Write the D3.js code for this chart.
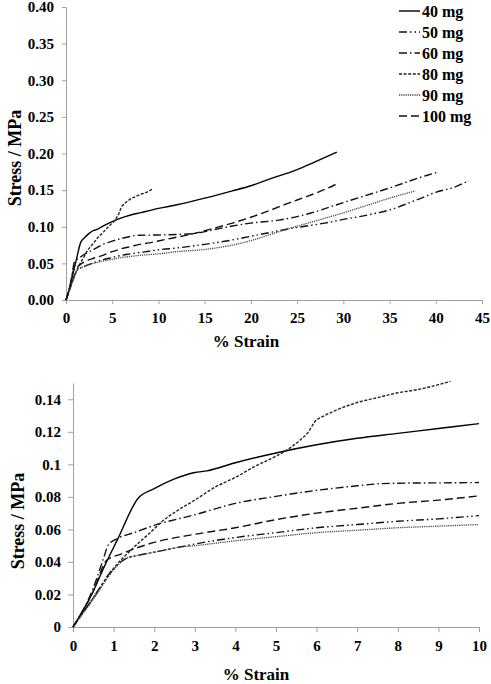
<!DOCTYPE html>
<html><head><meta charset="utf-8">
<script src="https://cdn.jsdelivr.net/npm/d3@7/dist/d3.min.js"></script>
<style>
body{margin:0;background:#fff;}
svg text{font-family:"Liberation Serif","Times New Roman",Times,"DejaVu Serif",serif !important;font-weight:bold;fill:#000;}
</style></head>
<body><svg id="c" width="491" height="684"></svg>
<script>
// ---- data ----
const seriesNames = ["40 mg","50 mg","60 mg","80 mg","90 mg","100 mg"];
const strain40 = [0,0.5,0.75,1.1,1.6,2.0,2.5,3.0,3.3,4,5,6,7,8,9,10,12,15,18,20,22,25,27,29.3];
const stress40 = [0,0.022,0.036,0.054,0.079,0.085,0.091,0.095,0.096,0.101,0.107,0.112,0.116,0.119,0.122,0.125,0.130,0.139,0.149,0.156,0.165,0.178,0.189,0.202];
const strain50 = [0,0.5,1.0,1.3,1.6,2,2.6,3,4,5,6,7,8,9,10,12,15,18,20,22,24,26,28,30,33,35,38,40,42,43.6];
const stress50 = [0,0.018,0.036,0.042,0.044,0.046,0.049,0.051,0.055,0.058,0.061,0.063,0.065,0.0665,0.0685,0.071,0.076,0.082,0.087,0.092,0.097,0.101,0.105,0.110,0.117,0.123,0.137,0.147,0.154,0.163];
const strain60 = [0,0.5,0.75,0.87,1.1,1.5,2,3,4,5,6,7,7.5,8,9,10,12,14,16,18,20,23,26,30,35,39,40.1];
const stress60 = [0,0.024,0.042,0.0505,0.0545,0.058,0.0625,0.069,0.076,0.0803,0.084,0.0868,0.088,0.0884,0.0886,0.0888,0.0895,0.091,0.096,0.101,0.105,0.109,0.117,0.133,0.153,0.170,0.174];
const strain80 = [0,0.5,1.0,1.5,1.9,2.2,2.6,3,3.5,4,4.5,5,5.34,5.6,5.8,5.95,6.2,6.5,7,7.5,8,8.5,9,9.3];
const stress80 = [0,0.018,0.036,0.049,0.058,0.065,0.072,0.078,0.086,0.092,0.099,0.105,0.110,0.115,0.120,0.126,0.130,0.1335,0.138,0.141,0.144,0.146,0.149,0.151];
const strain90 = [0,0.5,1.0,1.3,1.6,2,2.6,3,4,5,6,7,8,9,10,12,15,18,20,22,24,27,30,33,35,37.8];
const stress90 = [0,0.017,0.035,0.042,0.044,0.046,0.049,0.050,0.053,0.0555,0.058,0.0595,0.061,0.062,0.063,0.066,0.069,0.075,0.081,0.089,0.097,0.108,0.119,0.131,0.139,0.149];
const strain100 = [0,0.5,0.83,1.2,1.5,2,3,4,5,6,7,8,9,10,11.3,13.8,16,18,20,22,24,26,28,29.3];
const stress100 = [0,0.022,0.041,0.045,0.048,0.052,0.057,0.061,0.066,0.070,0.073,0.076,0.078,0.0806,0.084,0.0906,0.098,0.105,0.113,0.122,0.132,0.141,0.151,0.1585];

const topXTicks = [0,5,10,15,20,25,30,35,40,45];
const topYTicks = [0,0.05,0.10,0.15,0.20,0.25,0.30,0.35,0.40];
const topYLabels = ["0.00","0.05","0.10","0.15","0.20","0.25","0.30","0.35","0.40"];
const botXTicks = [0,1,2,3,4,5,6,7,8,9,10];
const botYTicks = [0,0.02,0.04,0.06,0.08,0.10,0.12,0.14];
const botYLabels = ["0","0.02","0.04","0.06","0.08","0.1","0.12","0.14"];

// ---- styles ----
const FONT = '"Liberation Serif","Times New Roman",Times,"DejaVu Serif",serif';
const styles = [
  {dash:null, color:"#000", w:1.4},
  {dash:"8,3,1.5,3,1.5,3", color:"#111", w:1.4},
  {dash:"8,3,1.5,3", color:"#111", w:1.4},
  {dash:"3,1.6", color:"#222", w:1.4},
  {dash:"1.2,1", color:"#444", w:1.3},
  {dash:"8,4", color:"#111", w:1.4}
];
const strains = [strain40,strain50,strain60,strain80,strain90,strain100];
const stresses = [stress40,stress50,stress60,stress80,stress90,stress100];
const series = seriesNames.map((n,i)=>({name:n, pts:strains[i].map((x,j)=>[x,stresses[i][j]]), st:styles[i]}));

const svg = d3.select("#c");
const axisColor = "#a0a0a0";

function drawChart(cfg){
  const x = d3.scaleLinear().domain(cfg.xd).range(cfg.xr);
  const y = d3.scaleLinear().domain(cfg.yd).range(cfg.yr);
  const g = svg.append("g");
  const xa = g.append("g").attr("transform",`translate(0,${cfg.yr[0]})`)
    .call(d3.axisBottom(x).tickValues(cfg.xt).tickFormat(d3.format("d")).tickSize(cfg.ts).tickSizeOuter(0).tickPadding(cfg.xpad));
  const ya = g.append("g").attr("transform",`translate(${cfg.xr[0]},0)`)
    .call(d3.axisLeft(y).tickValues(cfg.yt).tickFormat((d,i)=>cfg.yl[i]).tickSize(cfg.ts).tickSizeOuter(0).tickPadding(cfg.ypad));
  [xa,ya].forEach(a=>{
    a.attr("font-family",FONT).attr("font-size",cfg.fs);
    a.select(".domain").attr("stroke",axisColor);
    a.selectAll(".tick line").attr("stroke",axisColor);
    a.selectAll(".tick text").attr("font-family",FONT).attr("font-weight","bold").attr("font-size",cfg.fs).attr("fill","#000");
  });
  const line = d3.line().x(d=>x(d[0])).y(d=>y(d[1])).curve(d3.curveMonotoneX);
  series.forEach(s=>{
    const pts = s.pts.filter(p=>p[0]<=cfg.xd[1]+1e-9);
    g.append("path").attr("d",line(pts)).attr("fill","none")
      .attr("stroke",s.st.color).attr("stroke-width",s.st.w)
      .attr("stroke-dasharray",s.st.dash);
  });
  g.append("text").attr("x",cfg.xtx).attr("y",cfg.xty).attr("text-anchor","middle")
    .attr("font-family",FONT).attr("font-weight","bold").attr("font-size",17).text("% Strain");
  g.append("text").attr("transform",`translate(${cfg.ytx},${cfg.yty}) rotate(-90)`).attr("text-anchor","middle")
    .attr("font-family",FONT).attr("font-weight","bold").attr("font-size",18).text("Stress / MPa");
}

drawChart({xd:[0,45], xr:[66,482], yd:[0,0.40], yr:[300,7], xt:topXTicks, yt:topYTicks, yl:topYLabels,
  ts:4, xpad:8, ypad:8, fs:15, xtx:246, xty:347, ytx:21, yty:158});
drawChart({xd:[0,10], xr:[73,479], yd:[0,0.15], yr:[627,383], xt:botXTicks, yt:botYTicks, yl:botYLabels,
  ts:5, xpad:8, ypad:7, fs:15, xtx:256, xty:680, ytx:24, yty:521});

// legend
const lg = svg.append("g");
series.forEach((s,i)=>{
  const yy = 11 + i*21;
  lg.append("line").attr("x1",399).attr("x2",420).attr("y1",yy).attr("y2",yy)
    .attr("stroke",s.st.color).attr("stroke-width",s.st.w).attr("stroke-dasharray",s.st.dash);
  lg.append("text").attr("x",422).attr("y",yy).attr("dy","0.35em")
    .attr("font-family",FONT).attr("font-weight","bold").attr("font-size",16).text(s.name);
});
</script></body></html>
